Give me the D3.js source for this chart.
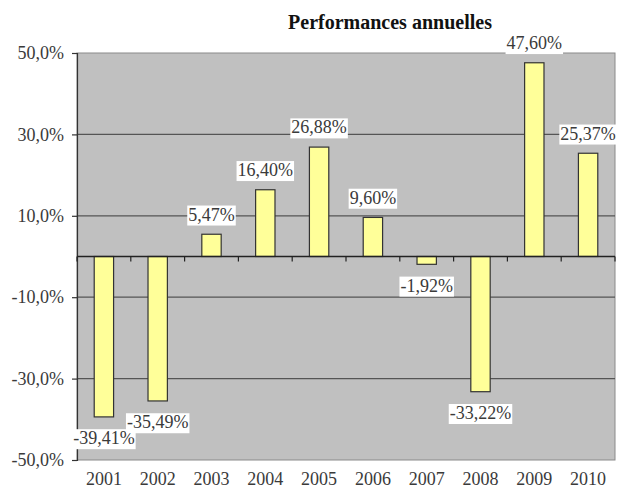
<!DOCTYPE html>
<html>
<head>
<meta charset="utf-8">
<script src="https://cdn.jsdelivr.net/npm/d3@7"></script>
<style>
  html, body { margin: 0; padding: 0; background: #fff; }
  svg { display: block; }
</style>
</head>
<body>
<svg id="chart" width="618" height="490"></svg>
<script>
// Annual performance, in percent
const years = ["2001", "2002", "2003", "2004", "2005", "2006", "2007", "2008", "2009", "2010"];
const performances = [-39.41, -35.49, 5.47, 16.40, 26.88, 9.60, -1.92, -33.22, 47.60, 25.37];
const yTicks = [50, 30, 10, -10, -30, -50];
const chartTitle = "Performances annuelles";

const fr = d3.formatLocale({ decimal: ",", thousands: " ", grouping: [3], currency: ["", " €"], minus: "-" });
const fmtTick = v => fr.format(".1f")(v) + "%";
const fmtLabel = v => fr.format(".2f")(v) + "%";

const svg = d3.select("#chart");
const margin = { left: 77, right: 3, top: 53, bottom: 30 };
const W = 618, H = 490;
const serif = "'Liberation Serif', 'DejaVu Serif', serif";
const textColor = "#3a3a3a";

const x = d3.scaleBand().domain(years).range([margin.left, W - margin.right]).paddingInner(0.64).paddingOuter(0.32);
const y = d3.scaleLinear().domain([-50, 50]).range([H - margin.bottom, margin.top]);

// plot area
svg.append("rect")
  .attr("x", margin.left).attr("y", margin.top)
  .attr("width", W - margin.right - margin.left).attr("height", y(-50) - margin.top)
  .attr("fill", "#c0c0c0").attr("stroke", "#8a8a8a").attr("stroke-width", 1);

// gridlines
svg.append("g").selectAll("line")
  .data(yTicks.filter(t => Math.abs(t) !== 50))
  .join("line")
  .attr("x1", margin.left).attr("x2", W - margin.right)
  .attr("y1", d => y(d)).attr("y2", d => y(d))
  .attr("stroke", "#555").attr("stroke-width", 1.2);

// y axis
const yAxis = svg.append("g")
  .attr("transform", `translate(${margin.left},0)`)
  .call(d3.axisLeft(y).tickValues(yTicks).tickFormat(fmtTick).tickSize(5).tickPadding(8));
yAxis.select(".domain").attr("stroke", "#333").attr("stroke-width", 1.2);
yAxis.selectAll(".tick line").attr("stroke", "#333").attr("stroke-width", 1.2);
yAxis.selectAll("text").attr("font-family", serif).attr("font-size", 18).attr("fill", textColor);

// bars
svg.append("g").selectAll("rect")
  .data(years.map((yr, i) => ({ yr, v: performances[i] })))
  .join("rect")
  .attr("x", d => x(d.yr))
  .attr("width", x.bandwidth())
  .attr("y", d => y(Math.max(0, d.v)))
  .attr("height", d => Math.abs(y(d.v) - y(0)))
  .attr("fill", "#ffff99").attr("stroke", "#333").attr("stroke-width", 1.2);

// zero axis with category separators
const step = x.step();
const zeroG = svg.append("g");
zeroG.append("line")
  .attr("x1", margin.left).attr("x2", W - margin.right)
  .attr("y1", y(0)).attr("y2", y(0))
  .attr("stroke", "#222").attr("stroke-width", 1.4);
zeroG.selectAll("line.sep")
  .data(d3.range(years.length + 1))
  .join("line").attr("class", "sep")
  .attr("x1", i => margin.left + i * step).attr("x2", i => margin.left + i * step)
  .attr("y1", y(0)).attr("y2", y(0) + 5)
  .attr("stroke", "#222").attr("stroke-width", 1.2);

// category labels
svg.append("g").selectAll("text")
  .data(years)
  .join("text")
  .attr("x", d => x(d) + x.bandwidth() / 2)
  .attr("y", H - 5)
  .attr("text-anchor", "middle")
  .attr("font-family", serif).attr("font-size", 18).attr("fill", textColor)
  .text(d => d);

// value labels on white boxes
const labels = svg.append("g").selectAll("g")
  .data(years.map((yr, i) => ({ yr, v: performances[i] })))
  .join("g")
  .attr("transform", d => {
    const cx = x(d.yr) + x.bandwidth() / 2;
    const cy = d.v >= 0 ? y(d.v) - 20 : y(d.v) + 21;
    return `translate(${cx},${cy})`;
  });
labels.append("rect").attr("fill", "#fff");
labels.append("text")
  .attr("text-anchor", "middle").attr("dy", "0.35em")
  .attr("font-family", serif).attr("font-size", 18).attr("fill", textColor)
  .text(d => fmtLabel(d.v));
labels.each(function () {
  const g = d3.select(this);
  const bb = g.select("text").node().getBBox();
  g.select("rect")
    .attr("x", bb.x - 1).attr("y", bb.y + 1)
    .attr("width", bb.width + 2).attr("height", bb.height);
});

// title
svg.append("text")
  .attr("x", 390).attr("y", 29)
  .attr("text-anchor", "middle")
  .attr("font-family", serif).attr("font-size", 20).attr("font-weight", "bold").attr("fill", "#111")
  .text(chartTitle);
</script>
</body>
</html>
